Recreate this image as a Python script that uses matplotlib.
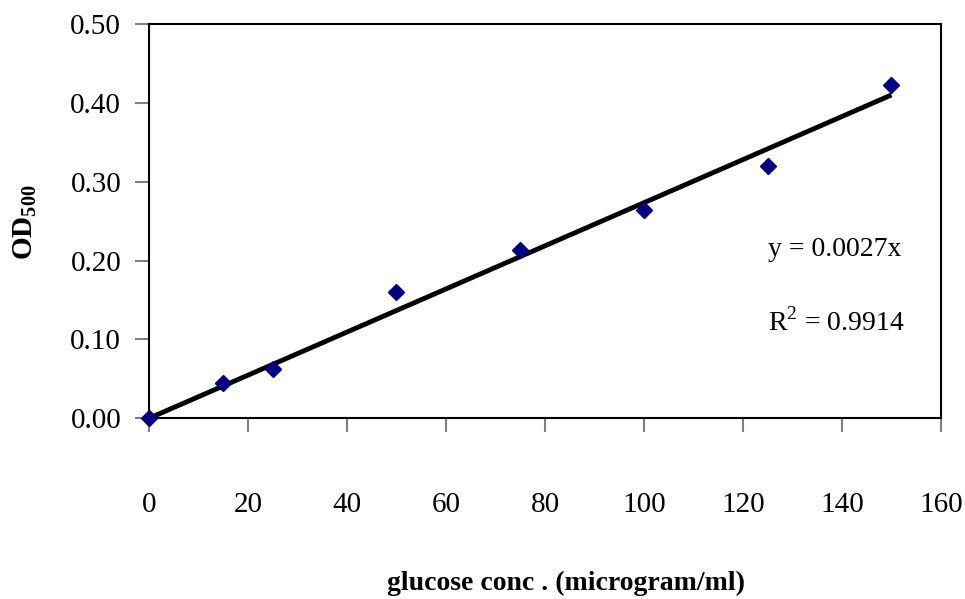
import numpy as np
import matplotlib
matplotlib.use("Agg")
import matplotlib.pyplot as plt

conc = [0, 15, 25, 50, 75, 100, 125, 150]
od500 = [0.000, 0.045, 0.063, 0.160, 0.213, 0.264, 0.320, 0.423]
x_ticks = [0, 20, 40, 60, 80, 100, 120, 140, 160]
y_ticks = [0.0, 0.1, 0.2, 0.3, 0.4, 0.5]
eq_text = "y = 0.0027x"
r2_text = "R$^{2}$ = 0.9914"

plt.rcParams['font.family'] = ['Liberation Serif', 'DejaVu Serif']
plt.rcParams['mathtext.fontset'] = 'custom'
plt.rcParams['mathtext.rm'] = 'Liberation Serif'
plt.rcParams['mathtext.bf'] = 'Liberation Serif:bold'

FS = 21

fig = plt.figure(figsize=(9.65, 5.99), dpi=100)
ax = fig.add_axes([0.1544, 0.3017, 0.8207, 0.6583])

x = np.array(conc, dtype=float)
y = np.array(od500, dtype=float)
slope = np.sum(x * y) / np.sum(x * x)
ax.plot([0, 150], [0, slope * 150], color='black', lw=3.5, solid_capstyle='butt', zorder=2)
ax.plot(x, y, linestyle='none', marker='D', color='#000080', markersize=8, zorder=3, clip_on=False)

ax.set_xlim(0, 160)
ax.set_ylim(0, 0.5)
ax.set_xticks(x_ticks)
ax.set_xticklabels([str(t) for t in x_ticks])
ax.set_yticks(y_ticks)
ax.set_yticklabels([f"{t:.2f}" for t in y_ticks])
ax.tick_params(axis='both', direction='out', length=10, width=1.5, color='#808080', labelsize=FS)
ax.tick_params(axis='x', pad=43)
ax.tick_params(axis='y', pad=10)
for s in ax.spines.values():
    s.set_linewidth(1.5)
    s.set_color('black')

ax.set_xlabel("glucose conc . (microgram/ml)", fontsize=20, fontweight='bold', labelpad=0)
ax.xaxis.set_label_coords(566 / 965, 1 - 583 / 599, transform=fig.transFigure)
ax.xaxis.label.set_va('center')
ax.set_ylabel("OD$_{\\mathbf{500}}$", fontsize=FS, fontweight='bold')
ax.yaxis.set_label_coords(25 / 965, 1 - 222 / 599, transform=fig.transFigure)
ax.yaxis.label.set_va('center')

ax.text(768 / 965, 1 - 250 / 599, eq_text, transform=fig.transFigure, fontsize=20, va='center', ha='left')
ax.text(768 / 965, 1 - 322 / 599, r2_text, transform=fig.transFigure, fontsize=20, va='center', ha='left')

fig.savefig("out.png", dpi=100)
